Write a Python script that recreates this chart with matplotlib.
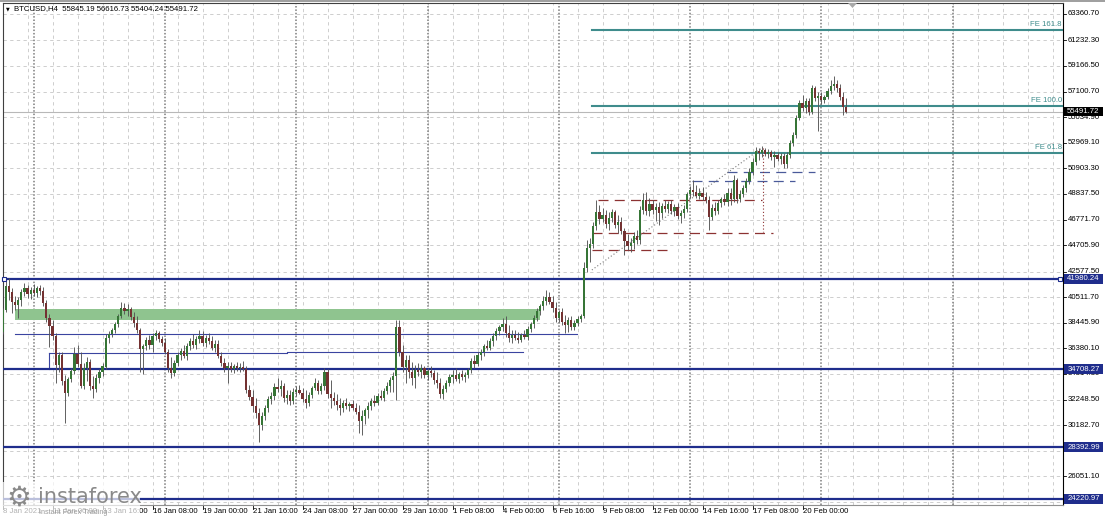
import matplotlib
matplotlib.use("Agg")
import matplotlib.pyplot as plt
from matplotlib.patches import Rectangle, Polygon
import matplotlib.transforms as mtransforms

# ---------------- data (BTCUSD H4) ----------------
opens = [
    37698, 39473, 41410, 40926, 40119, 39876, 40280, 40926, 41248, 40764,
    41087, 40845, 41248, 41006, 40038, 38827, 38182, 37375, 35034, 35841,
    33743, 32775, 33905, 34550, 35922, 35115, 33340, 34792, 35277, 33340,
    33098, 33985, 34470, 34873, 37213, 37536, 37859, 38343, 38989, 39634,
    39392, 39554, 38908, 38424, 37859, 36326, 36568, 37052, 36648, 37375,
    37617, 37133, 36810, 36084, 34792, 34389, 35196, 35841, 36164, 35761,
    36568, 36971, 36648, 37133, 37375, 36810, 37213, 36971, 36406, 36729,
    35761, 35196, 34792, 34954, 34712, 34954, 34792, 34873, 34712, 33017,
    32452, 31726, 31161, 30192, 30919, 31564, 32291, 32533, 33259, 33098,
    33340, 32371, 32613, 32129, 32856, 33017, 32775, 32291, 31968, 32613,
    33178, 33582, 32936, 33340, 34470, 32694, 32371, 32129, 31806, 31564,
    31968, 31726, 31887, 31564, 31242, 30515, 30919, 31403, 31726, 32129,
    31968, 32533, 32371, 32936, 33340, 33824, 34147, 38101, 36084, 34873,
    35438, 34470, 33985, 34631, 34470, 34792, 34227, 34550, 34389, 33824,
    33582, 32694, 33098, 33582, 34066, 34227, 33905, 34308, 34066, 34227,
    34631, 35357, 35115, 35841, 36084, 36568, 36406, 36971, 37375, 37778,
    38101, 38343, 37617, 37213, 37455, 37213, 37052, 37455, 37294, 37940,
    38343, 38827, 39392, 39796, 40199, 40522, 40119, 39634, 38827, 39312,
    38505, 38262, 38666, 38101, 38424, 38747, 38989, 42862, 44476, 44799,
    46252, 47382, 46817, 47139, 46413, 46897, 47382, 46332, 46575, 45848,
    45041, 44638, 44880, 45445, 45122, 47543, 48350, 47462, 48027, 47543,
    47785, 47301, 47866, 47624, 48027, 47462, 47785, 47059, 47301, 47624,
    48834, 49157, 48996, 48673, 48915, 48592, 48350, 46978, 47704, 47462,
    48108, 48431, 48189, 48915, 48431, 49964, 48431, 48834, 49318, 49883,
    50610, 51417, 52304, 52143, 52385, 52062, 52224, 51820, 51981, 51659,
    51901, 51255, 51981, 52950, 53595, 54967, 56178, 55774, 56339, 55452,
    57388, 56581, 56743, 56420, 56662, 57146, 57550, 57711, 57388, 56662,
    55845.19]
highs = [
    39634, 41894, 42055, 41248, 40603, 40522, 41168, 41652, 41490, 41329,
    41571, 41410, 41490, 41329, 40280, 39150, 38666, 37617, 36084, 36084,
    34227, 34066, 34792, 36487, 36648, 36084, 35196, 35680, 35519, 34147,
    34308, 34712, 35196, 37536, 37778, 38020, 38505, 39150, 40119, 40038,
    39957, 39715, 39312, 38989, 38020, 36729, 37294, 37455, 37617, 37859,
    37778, 37375, 37213, 36326, 35680, 35438, 36084, 36406, 36648, 36810,
    37213, 37536, 37375, 37859, 37778, 37455, 37617, 37375, 37052, 37052,
    36084, 35599, 35277, 35277, 35115, 35277, 35196, 35357, 34954, 33420,
    33017, 32371, 31564, 31242, 31806, 32533, 32856, 33582, 33985, 33824,
    33582, 33017, 33017, 33178, 33340, 33420, 33178, 33017, 32856, 33340,
    33985, 33824, 33582, 34792, 34712, 33824, 32856, 32694, 32371, 32210,
    32371, 32049, 32210, 31968, 31806, 31403, 31564, 32049, 32371, 32613,
    32775, 33017, 33178, 33663, 34066, 34470, 38666, 38666, 36648, 35841,
    35841, 35277, 35034, 35196, 35115, 34954, 34792, 34954, 34631, 34470,
    33985, 33420, 33824, 34308, 34631, 34792, 34470, 34631, 34470, 34792,
    35599, 35841, 36084, 36326, 36729, 37052, 37213, 37617, 38020, 38262,
    38827, 38989, 38262, 37859, 37859, 37698, 37617, 37859, 38182, 38505,
    39069, 39634, 39957, 40603, 41087, 40926, 40603, 40119, 39473, 39634,
    39069, 38908, 38989, 38666, 38989, 39150, 43347, 45122, 45283, 46575,
    48350, 47946, 47704, 47543, 47382, 47624, 47543, 47139, 46978, 46090,
    45606, 45283, 45768, 45929, 47866, 48915, 48996, 48511, 48350, 48108,
    48189, 48108, 48350, 48269, 48350, 48027, 48108, 47543, 47946, 48996,
    49480, 49964, 49560, 49318, 49399, 48996, 48673, 48027, 48189, 48350,
    48592, 48834, 49318, 49318, 50367, 50125, 49157, 49560, 50125, 50932,
    51739, 52627, 52546, 52708, 52546, 52466, 52385, 52304, 52224, 52143,
    52143, 52224, 53192, 53838, 55209, 56420, 56823, 56581, 56581, 57630,
    57550, 57066, 57066, 56823, 57388, 58034, 58357, 58034, 57711, 57066,
    56616.73]
lows = [
    37536, 39312, 40280, 39231, 39473, 38827, 39796, 40603, 40441, 40361,
    40603, 40522, 40683, 39796, 38505, 36487, 37052, 33582, 34470, 33420,
    30354, 32533, 33663, 34308, 34873, 33178, 33098, 33743, 33017, 32371,
    32856, 33582, 34147, 34712, 36810, 37294, 37617, 38101, 38827, 39150,
    38989, 38666, 38101, 37617, 34470, 34308, 36245, 36326, 36084, 37052,
    36891, 36568, 35922, 34470, 33985, 34147, 34954, 35438, 35599, 35438,
    36245, 36406, 36326, 36810, 36568, 36487, 36729, 36245, 36084, 35599,
    34954, 34470, 33582, 34470, 34389, 34550, 34470, 34550, 32775, 32210,
    31242, 30757, 28821, 29789, 30596, 31242, 31887, 32210, 32856, 32533,
    32049, 31887, 31806, 31887, 32533, 32694, 32049, 31564, 31726, 32371,
    33017, 32694, 32694, 33017, 32371, 31564, 31806, 31403, 30999, 31242,
    31484, 31322, 31403, 31080, 29547, 29385, 30273, 30757, 31403, 31726,
    31806, 32210, 32129, 32694, 32856, 32856, 32210, 35761, 34470, 33582,
    33985, 33420, 33178, 34147, 33985, 33985, 33824, 34066, 33501, 33178,
    32371, 32291, 32856, 33340, 33582, 33743, 33582, 33824, 33663, 33985,
    34389, 34792, 34954, 35438, 35761, 36245, 36245, 36568, 37052, 37455,
    37778, 37294, 36891, 36810, 37052, 36810, 36891, 37133, 37052, 37698,
    38020, 38585, 39069, 39473, 39876, 39957, 39312, 38505, 38505, 38262,
    37617, 37698, 37859, 37859, 38182, 38505, 38827, 42540, 43347, 44476,
    45929, 46413, 46575, 46090, 45929, 46575, 46090, 45687, 45606, 43911,
    44315, 44154, 44396, 44799, 44799, 47220, 47139, 47059, 47220, 46655,
    46332, 46897, 47382, 47301, 47220, 47059, 46817, 46494, 46897, 47382,
    48511, 48673, 48511, 48431, 48350, 48108, 45929, 46736, 47139, 47220,
    47785, 47946, 47866, 47946, 48189, 48108, 48189, 48592, 48996, 49641,
    50367, 51174, 51578, 51820, 51901, 51739, 51578, 51013, 51497, 51255,
    50932, 50932, 51739, 52708, 53353, 54806, 55532, 55371, 55209, 55290,
    56339, 53918, 56097, 56178, 56501, 56904, 57227, 57066, 56420, 55209,
    55404.24]
closes = [
    39473, 41410, 40926, 40119, 39876, 40280, 40926, 41248, 40764, 41087,
    40845, 41248, 41006, 40038, 38827, 38182, 37375, 35034, 35841, 33743,
    32775, 33905, 34550, 35922, 35115, 33340, 34792, 35277, 33340, 33098,
    33985, 34470, 34954, 37213, 37536, 37859, 38343, 38989, 39634, 39392,
    39554, 38908, 38424, 37859, 36326, 36568, 37052, 36648, 37375, 37617,
    37133, 36810, 36084, 34792, 34389, 35196, 35841, 36164, 35761, 36568,
    36971, 36648, 37133, 37375, 36810, 37213, 36971, 36406, 36729, 35761,
    35196, 34792, 34954, 34712, 34954, 34792, 34873, 34712, 33017, 32452,
    31726, 31161, 30192, 30919, 31564, 32291, 32533, 33259, 33098, 33340,
    32371, 32613, 32129, 32856, 33017, 32775, 32291, 31968, 32613, 33178,
    33582, 32936, 33340, 34470, 32694, 32371, 32129, 31806, 31564, 31968,
    31726, 31887, 31564, 31242, 30515, 30919, 31403, 31726, 32129, 31968,
    32533, 32371, 32936, 33340, 33824, 34147, 38101, 36084, 34873, 35438,
    34470, 33985, 34631, 34470, 34792, 34227, 34550, 34389, 33824, 33582,
    32694, 33098, 33582, 34066, 34227, 33905, 34308, 34066, 34227, 34631,
    35357, 35115, 35841, 36084, 36568, 36406, 36971, 37375, 37778, 38101,
    38343, 37617, 37213, 37455, 37213, 37052, 37455, 37294, 37940, 38343,
    38827, 39392, 39796, 40199, 40522, 40119, 39634, 38827, 39312, 38505,
    38262, 38666, 38101, 38424, 38747, 38989, 42862, 44476, 44799, 46252,
    47382, 46817, 47139, 46413, 46897, 47382, 46332, 46575, 45848, 45041,
    44638, 44880, 45445, 45122, 47543, 48350, 47462, 48027, 47543, 47785,
    47301, 47866, 47624, 48027, 47462, 47785, 47059, 47301, 47624, 48834,
    49157, 48996, 48673, 48915, 48592, 48350, 46978, 47704, 47462, 48108,
    48431, 48189, 48915, 48431, 49964, 48431, 48834, 49318, 49883, 50610,
    51417, 52304, 52143, 52385, 52062, 52224, 51820, 51981, 51659, 51901,
    51255, 51981, 52950, 53595, 54967, 56178, 55774, 56339, 55452, 57388,
    56581, 56743, 56420, 56662, 57146, 57550, 57711, 57388, 56662, 55845.19,
    55491.72]

symbol = "BTCUSD,H4"
price_ticks = [63360.70, 61232.30, 59166.50, 57100.70, 55034.90, 52969.10,
               50903.30, 48837.50, 46771.70, 44705.90, 42577.50, 40511.70,
               38445.90, 36380.10, 34314.30, 32248.50, 30182.70, 28116.90,
               26051.10, 23985.30]
time_label_bars = [0, 16, 32, 48, 64, 80, 96, 112, 128, 144, 160, 176, 192,
                   208, 224, 240, 256]
time_labels = ["8 Jan 2021", "11 Jan 00:00", "13 Jan 16:00", "16 Jan 08:00",
               "19 Jan 00:00", "21 Jan 16:00", "24 Jan 08:00", "27 Jan 00:00",
               "29 Jan 16:00", "1 Feb 08:00", "4 Feb 00:00", "6 Feb 16:00",
               "9 Feb 08:00", "12 Feb 00:00", "14 Feb 16:00", "17 Feb 08:00",
               "20 Feb 00:00"]
week_separator_bars = [10, 52, 94, 136, 178, 220, 262, 304]

# horizontal levels (price)
key_levels = [41980.24, 34708.27, 28392.99, 24220.97]
fe_levels = [62069, 55936, 52143]
fe_names = ["FE 161.8", "FE 100.0", "FE 61.8"]
# thin support lines: (price, start bar, end bar)
thin_lines = [(37512, 4.0, 183.8), (35980, 14.9, 91.0), (36045, 91.0, 166.6)]
zone = (38666, 39554, 4.0, 172.0)      # green zone: low, high, bar from, bar to
# dashed lines (price, bar from, bar to)
brown_dashed = [(48350, 190.6, 243.0), (45687, 188.6, 246.6), (44315, 188.6, 213.6)]
blue_dashed = [(50610, 231.8, 260.0), (49883, 220.6, 253.6)]
fe_points_bar = [188.6, 243.0, 243.4]
fe_points_price = [42701, 52546, 45768]

# ---------------- figure ----------------
W, H = 1105, 520
fig = plt.figure(figsize=(W / 100, H / 100), dpi=100)
fig.patch.set_facecolor("white")
ax = fig.add_axes([3 / W, 15 / H, 1060 / W, 502 / H])
ax.set_facecolor("white")
ax.set_xlim(0.16, 339.36)
ax.set_ylim(23736.5, 64248)
ax.set_xticks([])
ax.set_yticks([])
for s in ["left", "top"]:
    ax.spines[s].set_color("#404040")
    ax.spines[s].set_linewidth(0.8)
ax.spines["right"].set_color("black")
ax.spines["right"].set_linewidth(0.8)
ax.spines["bottom"].set_color("#909090")
ax.spines["bottom"].set_linewidth(0.8)

FONT = "Liberation Sans"
fs = 5.6

# grid
for p in price_ticks:
    ax.axhline(p, color="#c6c6c6", lw=0.6, ls=(0, (4, 4)), zorder=0)
for b in range(0, 340, 8):
    ax.axvline(b, color="#c6c6c6", lw=0.6, ls=(0, (4, 4)), zorder=0)
for b in week_separator_bars:
    ax.axvline(b, color="#7c7c7c", lw=1.1, ls=(0, (1, 1.2)), zorder=0.5)

# green zone
ax.add_patch(Rectangle((zone[2], zone[0]), zone[3] - zone[2], zone[1] - zone[0],
                       facecolor="#8fc48f", edgecolor="none", zorder=1))

# thin support lines
navy_thin = "#3a44a0"
for p, b0, b1 in thin_lines:
    ax.plot([b0, b1], [p, p], color=navy_thin, lw=0.8, zorder=2)
ax.plot([thin_lines[1][1], thin_lines[1][1]], [thin_lines[1][0], key_levels[1]],
        color=navy_thin, lw=0.8, zorder=2)

# current price line
last_close = closes[-1]
ax.axhline(last_close, color="#b8b8b8", lw=0.8, zorder=1.5)

# key levels
navy = "#1f2d8c"
for p in key_levels:
    ax.axhline(p, color=navy, lw=1.6, zorder=3)
ax.plot([0.6], [key_levels[0]], marker="s", ms=3, mfc="white", mec=navy,
        mew=0.8, zorder=6, clip_on=False)
ax.plot([338.4], [key_levels[0]], marker="s", ms=3, mfc="white", mec=navy,
        mew=0.8, zorder=6, clip_on=False)

# FE lines
teal = "#3f8c8c"
for p, name in zip(fe_levels, fe_names):
    ax.plot([fe_points_bar[0], 339.36], [p, p], color=teal, lw=1.5, zorder=3)
    ax.text(339.0, p + 150, name, color=teal, fontsize=fs, family=FONT,
            ha="right", va="bottom", zorder=4)

# dashed lines
brown = "#8c3232"
for p, b0, b1 in brown_dashed:
    ax.plot([b0, b1], [p, p], color=brown, lw=0.9, ls=(0, (8, 5)), zorder=2)
for p, b0, b1 in blue_dashed:
    ax.plot([b0, b1], [p, p], color="#4a5a9a", lw=0.9, ls=(0, (8, 5)), zorder=2)
ax.plot(fe_points_bar[:2], fe_points_price[:2], color="#7a7a7a", lw=0.8,
        ls=(0, (1, 2)), zorder=2)
ax.plot([fe_points_bar[2], fe_points_bar[2]], [fe_points_price[1], fe_points_price[2]],
        color=brown, lw=0.8, ls=(0, (1, 2)), zorder=2)

# candles
green = "#367536"
red = "#743232"
wick = "#555555"
xs = list(range(len(closes)))
ax.vlines(xs, [min(l, o, c) for l, o, c in zip(lows, opens, closes)],
          [max(h, o, c) for h, o, c in zip(highs, opens, closes)],
          color=wick, lw=0.65, zorder=4)
for i, (o, c) in enumerate(zip(opens, closes)):
    col = green if c >= o else red
    bottom = min(o, c)
    height = max(abs(c - o), 90)
    ax.bar(i, height, bottom=bottom, width=0.72, color=col, edgecolor="none",
           zorder=5)

# right axis tick labels
bt = mtransforms.blended_transform_factory(ax.transAxes, ax.transData)
for p in price_ticks:
    ax.plot([1.0, 1.003], [p, p], color="black", lw=0.6, transform=bt,
            clip_on=False)
    ax.text(1.0045, p, f"{p:.2f}", transform=bt, fontsize=fs, family=FONT,
            ha="left", va="center", color="black", clip_on=False)

def price_box(p, bg):
    ax.add_patch(Rectangle((1.0009, p - 390), 0.0368, 780, transform=bt,
                           facecolor=bg, edgecolor="none", clip_on=False,
                           zorder=10))
    ax.text(1.0193, p, f"{p:.2f}", transform=bt, fontsize=fs, family=FONT,
            ha="center", va="center", color="white", clip_on=False, zorder=11)

for p in key_levels:
    price_box(p, navy)
price_box(last_close, "black")

# time labels
bx = mtransforms.blended_transform_factory(ax.transData, ax.transAxes)
for b, lab in zip(time_label_bars, time_labels):
    ax.plot([b, b], [0, -0.008], color="black", lw=0.6, transform=bx,
            clip_on=False)
    ax.text(b + 0.2, -0.013, lab, transform=bx, fontsize=fs, family=FONT,
            ha="left", va="center", color="black", clip_on=False)

# header
fig.text(6 / W, 1 - 9 / H, "\u25BC", fontsize=3.5, family="DejaVu Sans",
         va="center", ha="left", color="black")
fig.text(14 / W, 1 - 9 / H,
         f"{symbol}  {opens[-1]:.2f} {highs[-1]:.2f} {lows[-1]:.2f} {closes[-1]:.2f}",
         fontsize=fs, family=FONT, va="center", ha="left", color="black")

# top band and chart shift marker
fig.patches.append(Rectangle((0, 1 - 2 / H), 1, 2 / H, transform=fig.transFigure,
                             facecolor="#a0a0a0", edgecolor="none"))
fig.patches.append(Polygon([[848 / W, 1 - 3 / H], [857 / W, 1 - 3 / H],
                            [852.5 / W, 1 - 8 / H]], closed=True,
                           transform=fig.transFigure, facecolor="#a8a8a8",
                           edgecolor="none"))

# logo
fig.patches.append(Rectangle((0, 0), 140 / W, 38 / H, transform=fig.transFigure,
                             facecolor="white", alpha=0.7, edgecolor="none",
                             zorder=20))
fig.text(19 / W, 1 - 498 / H, "\u2699", fontsize=20, family="DejaVu Sans",
         color="#8a8a8a", ha="center", va="center", zorder=21)
fig.text(38 / W, 1 - 497 / H, "instaforex", fontsize=15, family="DejaVu Sans",
         color="#8a8a8a", ha="left", va="center", zorder=21)
fig.text(39 / W, 1 - 513 / H, "Instant Forex Trading", fontsize=5.2,
         family=FONT, color="#9a9a9a", ha="left", va="center", zorder=21)

fig.savefig("out.png", dpi=100)
